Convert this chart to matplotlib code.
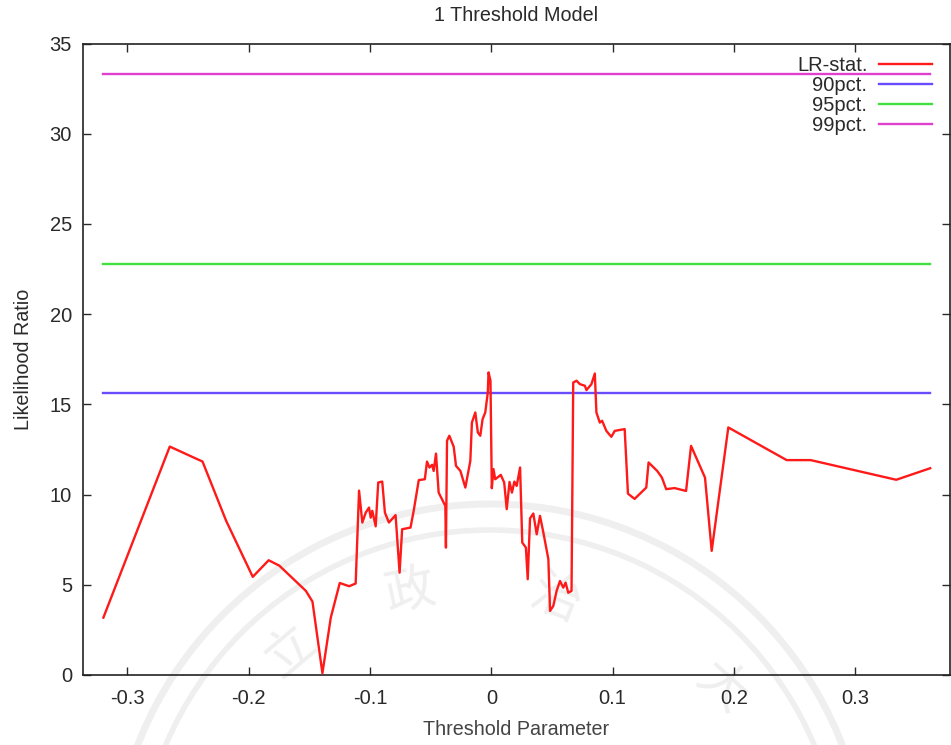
import matplotlib
matplotlib.use("Agg")
import matplotlib.pyplot as plt
from matplotlib.patches import Circle

# ---------------- data ----------------
threshold = [-0.3197, -0.2650, -0.2380, -0.2185, -0.1966, -0.1835, -0.1747, -0.1528, -0.1474, -0.1392,
             -0.1323, -0.1249, -0.1172, -0.1118, -0.1090, -0.1063, -0.1035, -0.1008, -0.0994, -0.0981,
             -0.0953, -0.0932, -0.0899, -0.0877, -0.0844, -0.0789, -0.0756, -0.0735, -0.0666, -0.0639,
             -0.0598, -0.0548, -0.0530, -0.0510, -0.0488, -0.0475, -0.0456, -0.0434, -0.0379, -0.0374,
             -0.0365, -0.0346, -0.0310, -0.0291, -0.0255, -0.0214, -0.0173, -0.0160, -0.0132, -0.0111,
             -0.0091, -0.0072, -0.0050, -0.0029, -0.0023, -0.0007, 0.0004, 0.0018, 0.0032, 0.0078,
             0.0106, 0.0127, 0.0150, 0.0170, 0.0190, 0.0209, 0.0237, 0.0255, 0.0285, 0.0300,
             0.0319, 0.0346, 0.0374, 0.0401, 0.0429, 0.0470, 0.0484, 0.0511, 0.0538, 0.0566,
             0.0593, 0.0612, 0.0634, 0.0661, 0.0675, 0.0702, 0.0730, 0.0771, 0.0784, 0.0825,
             0.0853, 0.0866, 0.0894, 0.0913, 0.0948, 0.0989, 0.1017, 0.1099, 0.1126, 0.1181,
             0.1277, 0.1296, 0.1367, 0.1406, 0.1441, 0.1510, 0.1605, 0.1646, 0.1761, 0.1816,
             0.1953, 0.2434, 0.2632, 0.3337, 0.3617]
lr_stat = [3.18, 12.66, 11.83, 8.54, 5.44, 6.36, 6.06, 4.66, 4.07, 0.10,
           3.18, 5.10, 4.92, 5.07, 10.22, 8.45, 9.00, 9.28, 8.72, 9.10,
           8.24, 10.67, 10.72, 9.00, 8.45, 8.86, 5.67, 8.08, 8.17, 9.13,
           10.80, 10.85, 11.83, 11.50, 11.65, 11.31, 12.27, 10.11, 9.37, 7.06,
           12.98, 13.26, 12.65, 11.59, 11.31, 10.39, 11.87, 13.99, 14.55, 13.44,
           13.26, 14.18, 14.55, 15.66, 16.77, 16.31, 10.35, 11.41, 10.85, 11.09,
           10.67, 9.19, 10.70, 10.11, 10.72, 10.48, 11.50, 7.34, 7.06, 5.31,
           8.68, 8.95, 7.80, 8.82, 7.89, 6.42, 3.55, 3.83, 4.66, 5.21,
           4.84, 5.12, 4.56, 4.66, 16.21, 16.31, 16.12, 16.03, 15.79, 16.12,
           16.71, 14.55, 13.99, 14.09, 13.53, 13.20, 13.53, 13.63, 10.05, 9.76,
           10.39, 11.78, 11.31, 10.94, 10.30, 10.36, 10.20, 12.70, 10.94, 6.88,
           13.72, 11.91, 11.91, 10.82, 11.46]
crit_labels = ["90pct.", "95pct.", "99pct."]
crit_values = [15.65, 22.80, 33.33]
xticks = [-0.3, -0.2, -0.1, 0.0, 0.1, 0.2, 0.3]
xtick_labels = ["-0.3", "-0.2", "-0.1", "0", "0.1", "0.2", "0.3"]
yticks = [0, 5, 10, 15, 20, 25, 30, 35]

# ---------------- styling ----------------
plt.rcParams['font.family'] = ['Liberation Sans', 'DejaVu Sans']
W, H = 951, 745
fig = plt.figure(figsize=(W / 100, H / 100), dpi=100)
fig.patch.set_facecolor('white')

# faint watermark seal behind everything (pixel-unit overlay)
wm = fig.add_axes([0, 0, 1, 1], zorder=0)
wm.set_xlim(0, W)
wm.set_ylim(H, 0)
wm.axis('off')
wm_col = '#efefef'
for r, lw in [(378, 5), (352, 4)]:
    wm.add_patch(Circle((490, 882), r, fill=False, ec=wm_col, lw=lw))
for ch, (px, py, rot) in zip("立政治大", [(290, 652, 40), (410, 592, 12), (556, 600, -22), (722, 688, -42)]):
    wm.text(px, py, ch, fontsize=36, color=wm_col, rotation=rot, ha='center', va='center',
            family=['Noto Sans CJK TC', 'DejaVu Sans'])

ax = fig.add_axes([83 / W, 1 - 675 / H, (950 - 83) / W, (675 - 43.5) / H], zorder=1)
ax.set_facecolor('none')

text_col = '#2a2a2a'
colors = ['#ff1a1a', '#6a4cff', '#3fe03f', '#e040d0']

ax.plot(threshold, lr_stat, color=colors[0], lw=1.7, label='LR-stat.', zorder=3)
x_span = [threshold[0], threshold[-1]]
for lab, val, c in zip(crit_labels, crit_values, colors[1:]):
    ax.plot(x_span, [val, val], color=c, lw=1.7, label=lab, zorder=2)

ax.set_xlim(-0.3365, 0.378)
ax.set_ylim(0, 35)
ax.set_xticks(xticks)
ax.set_xticklabels(xtick_labels)
ax.set_yticks(yticks)
ax.tick_params(direction='in', length=6, width=1.0, top=True, right=True,
               labelsize=14.5, colors=text_col)
ax.tick_params(axis='y', pad=8)
ax.tick_params(axis='x', pad=10)
for s in ax.spines.values():
    s.set_linewidth(1.2)
    s.set_color('#222222')

ax.set_title('1 Threshold Model', fontsize=14.2, color=text_col, pad=16)
ax.set_xlabel('Threshold Parameter', fontsize=14.2, color='#444444', labelpad=9)
ax.set_ylabel('Likelihood Ratio', fontsize=14.2, color=text_col, labelpad=12)

leg = ax.legend(loc='upper right', bbox_to_anchor=(0.993, 0.999), frameon=False,
                markerfirst=False, fontsize=14.5, labelspacing=0.05, handlelength=2.6,
                handletextpad=0.6, borderpad=0.1, alignment='right')
for t in leg.get_texts():
    t.set_color(text_col)
    t.set_ha('right')

fig.savefig('out.png', dpi=100, facecolor='white')
